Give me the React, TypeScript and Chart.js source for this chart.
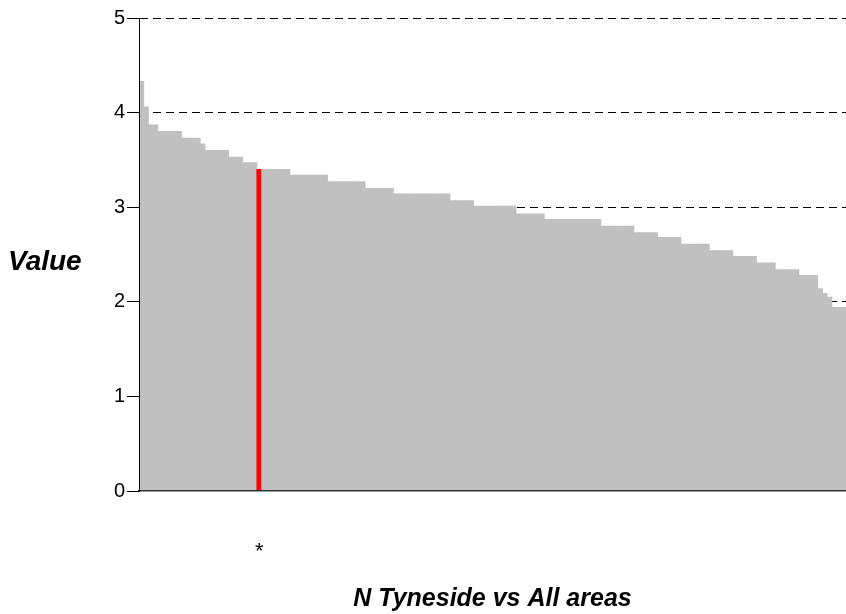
import React, { useEffect, useRef } from "react";
import { Chart, registerables } from "chart.js";

Chart.register(...registerables);

// Sorted area values (N Tyneside highlighted)
const VALUES: number[] = [
  4.33, 4.06, 3.87, 3.87, 3.8, 3.8, 3.8, 3.8, 3.8, 3.73,
  3.73, 3.73, 3.73, 3.67, 3.6, 3.6, 3.6, 3.6, 3.6, 3.53,
  3.53, 3.53, 3.47, 3.47, 3.47, 3.4, 3.4, 3.4, 3.4, 3.4,
  3.4, 3.4, 3.34, 3.34, 3.34, 3.34, 3.34, 3.34, 3.34, 3.34,
  3.27, 3.27, 3.27, 3.27, 3.27, 3.27, 3.27, 3.27, 3.2, 3.2,
  3.2, 3.2, 3.2, 3.2, 3.14, 3.14, 3.14, 3.14, 3.14, 3.14,
  3.14, 3.14, 3.14, 3.14, 3.14, 3.14, 3.07, 3.07, 3.07, 3.07,
  3.07, 3.01, 3.01, 3.01, 3.01, 3.01, 3.01, 3.01, 3.01, 3.01,
  2.93, 2.93, 2.93, 2.93, 2.93, 2.93, 2.87, 2.87, 2.87, 2.87,
  2.87, 2.87, 2.87, 2.87, 2.87, 2.87, 2.87, 2.87, 2.8, 2.8,
  2.8, 2.8, 2.8, 2.8, 2.8, 2.73, 2.73, 2.73, 2.73, 2.73,
  2.68, 2.68, 2.68, 2.68, 2.68, 2.61, 2.61, 2.61, 2.61, 2.61,
  2.61, 2.54, 2.54, 2.54, 2.54, 2.54, 2.48, 2.48, 2.48, 2.48,
  2.48, 2.41, 2.41, 2.41, 2.41, 2.34, 2.34, 2.34, 2.34, 2.34,
  2.28, 2.28, 2.28, 2.28, 2.14, 2.09, 2.05, 1.94, 1.94, 1.94,
];
const HIGHLIGHT_INDEX = 25; // N Tyneside
const CATEGORIES: string[] = VALUES.map((_, i) => `Area ${i + 1}`);
const Y_TICKS: number[] = [0, 1, 2, 3, 4, 5];
const Y_TITLE = "Value";
const X_TITLE = "N Tyneside vs All areas";
const MARKER = "*";

const FONT = '"Liberation Sans", Arial, sans-serif';

const sideTitlePlugin = {
  id: "sideTitle",
  afterDraw(chart: any) {
    const { ctx, chartArea } = chart;
    ctx.save();
    ctx.font = `italic bold 28px ${FONT}`;
    ctx.fillStyle = "#000";
    ctx.textAlign = "left";
    ctx.textBaseline = "middle";
    ctx.fillText(Y_TITLE, 8, (chartArea.top + chartArea.bottom) / 2 + 8);
    ctx.restore();
  },
};

export default function App() {
  const ref = useRef<HTMLCanvasElement | null>(null);
  useEffect(() => {
    if (!ref.current) return;
    const chart = new Chart(ref.current, {
      type: "bar",
      data: {
        labels: CATEGORIES,
        datasets: [
          {
            data: VALUES,
            backgroundColor: VALUES.map((_, i) => (i === HIGHLIGHT_INDEX ? "#FF0000" : "#C0C0C0")),
            borderWidth: 0,
            barPercentage: 1,
            categoryPercentage: 1,
            inflateAmount: 0.4,
          },
        ],
      },
      options: {
        animation: false,
        responsive: false,
        events: [],
        layout: { padding: { top: 18, left: 0, right: 0, bottom: 0 } },
        plugins: { legend: { display: false }, tooltip: { enabled: false }, title: { display: false } },
        scales: {
          x: {
            grid: { display: false, drawTicks: true, tickLength: 48 },
            border: { display: true, color: "#333", width: 1.5, z: 1 },
            ticks: {
              autoSkip: false,
              maxRotation: 0,
              minRotation: 0,
              padding: 0,
              color: "#000",
              font: { family: FONT, size: 22 },
              callback: (_v: any, i: number) => (i === HIGHLIGHT_INDEX ? MARKER : ""),
            },
            title: {
              display: true,
              text: X_TITLE,
              color: "#000",
              font: { family: FONT, size: 25, style: "italic", weight: "bold" },
              padding: { top: 0, bottom: 0 },
            },
            afterFit: (s: any) => {
              s.height = 123;
            },
          },
          y: {
            min: 0,
            max: 5,
            afterBuildTicks: (s: any) => {
              s.ticks = Y_TICKS.map((v) => ({ value: v }));
            },
            grid: {
              color: (c: any) => (c.tick && c.tick.value === 0 ? "rgba(0,0,0,0)" : "#000"),
              lineWidth: 1,
              drawTicks: true,
              tickLength: 12,
              tickColor: "#000",
              tickBorderDash: [],
            },
            border: { display: true, color: "#000", width: 1, dash: [8, 5], z: 1 },
            ticks: {
              color: "#000",
              padding: 2,
              font: { family: FONT, size: 20 },
            },
            afterFit: (s: any) => {
              s.width = 139;
            },
          },
        },
      },
      plugins: [sideTitlePlugin],
    });
    return () => chart.destroy();
  }, []);
  return (
    <div style={{ position: "fixed", left: 0, top: 0, width: 846, height: 614, background: "#fff" }}>
      <canvas ref={ref} width={846} height={614} />
    </div>
  );
}
